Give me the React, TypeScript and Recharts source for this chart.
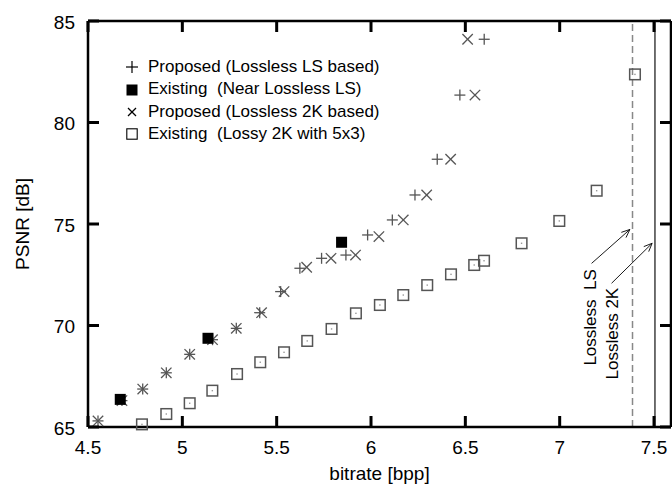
import React from 'react';
import { ScatterChart, Scatter, XAxis, YAxis, ReferenceLine, ReferenceDot, Legend } from 'recharts';

// ---- data ----
const xTicks = [4.5, 5, 5.5, 6, 6.5, 7, 7.5];
const yTicks = [65, 70, 75, 80, 85];
const xDomain = [4.5, 7.59];
const yDomain = [65, 85];

// + Proposed (Lossless LS based)
const lsPlusX = [4.553, 4.68, 4.79, 4.915, 5.039, 5.16, 5.286, 5.41, 5.521, 5.623, 5.738, 5.867, 5.982, 6.113, 6.233, 6.351, 6.471, 6.6];
const lsPlusY = [65.3, 66.3, 66.87, 67.67, 68.58, 69.3, 69.86, 70.63, 71.67, 72.82, 73.31, 73.47, 74.46, 75.2, 76.43, 78.19, 81.35, 84.1];
// x Proposed (Lossless 2K based)
const k2CrossX = [4.553, 4.68, 4.79, 4.915, 5.039, 5.16, 5.286, 5.42, 5.539, 5.659, 5.788, 5.918, 6.042, 6.171, 6.295, 6.422, 6.551, 6.512];
const k2CrossY = [65.3, 66.3, 66.87, 67.67, 68.58, 69.3, 69.86, 70.63, 71.67, 72.87, 73.31, 73.47, 74.38, 75.2, 76.43, 78.19, 81.35, 84.1];
// filled square Existing (Near Lossless LS)
const nearLsX = [4.671, 5.136, 5.844];
const nearLsY = [66.36, 69.37, 74.1];
// open square Existing (Lossy 2K with 5x3)
const lossyX = [4.786, 4.915, 5.039, 5.159, 5.29, 5.413, 5.539, 5.662, 5.791, 5.92, 6.047, 6.171, 6.298, 6.424, 6.547, 6.599, 6.798, 6.998, 7.196, 7.399];
const lossyY = [65.13, 65.64, 66.17, 66.79, 67.61, 68.19, 68.68, 69.24, 69.83, 70.6, 71.01, 71.5, 71.99, 72.52, 72.98, 73.19, 74.05, 75.15, 76.64, 82.37];

// vertical reference lines
const losslessLsX = 7.386;
const lossless2kX = 7.505;
// annotations
const annoLabels = [
  { text: 'Lossless  LS', x: 7.163, y: 70.4 },
  { text: 'Lossless 2K', x: 7.28, y: 69.6 },
];
const annoArrows = [
  [{ x: 7.169, y: 73.06 }, { x: 7.372, y: 74.73 }],
  [{ x: 7.275, y: 72.08 }, { x: 7.49, y: 74.05 }],
];

const legendRows = [
  { icon: 'plus', label: 'Proposed (Lossless LS based)' },
  { icon: 'filled', label: 'Existing  (Near Lossless LS)' },
  { icon: 'cross', label: 'Proposed (Lossless 2K based)' },
  { icon: 'open', label: 'Existing  (Lossy 2K with 5x3)' },
];

const toPts = (xs: number[], ys: number[]) => xs.map((x, i) => ({ x, y: ys[i] }));

// tick-mark anchor points on the top and right sides of the frame
const tickTop = xTicks.map((t) => ({ x: t, y: yDomain[1] }));
const tickRight = yTicks.map((t) => ({ x: xDomain[1], y: t }));

const FONT = '"Liberation Sans", Arial, Helvetica, sans-serif';
const GRAY = '#555';

const PlusShape = (p: any) => {
  const { cx, cy } = p;
  return (
    <g stroke={GRAY} strokeWidth={1.3}>
      <line x1={cx - 5.5} y1={cy} x2={cx + 5.5} y2={cy} />
      <line x1={cx} y1={cy - 5.5} x2={cx} y2={cy + 5.5} />
    </g>
  );
};
const CrossShape = (p: any) => {
  const { cx, cy } = p;
  return (
    <g stroke={GRAY} strokeWidth={1.3}>
      <line x1={cx - 5.2} y1={cy - 5.2} x2={cx + 5.2} y2={cy + 5.2} />
      <line x1={cx - 5.2} y1={cy + 5.2} x2={cx + 5.2} y2={cy - 5.2} />
    </g>
  );
};
const OpenSquare = (p: any) => {
  const { cx, cy } = p;
  return (
    <g>
      <rect x={cx - 5.3} y={cy - 5.3} width={10.6} height={10.6} fill="none" stroke={GRAY} strokeWidth={1.5} />
      <rect x={cx - 0.7} y={cy - 0.7} width={1.4} height={1.4} fill="#999" />
    </g>
  );
};
const FilledSquare = (p: any) => {
  const { cx, cy } = p;
  return <rect x={cx - 5.5} y={cy - 5.5} width={11} height={11} fill="#000" />;
};

// inward tick marks on top / right sides
const TickDown = (p: any) => <line x1={p.cx} y1={p.cy} x2={p.cx} y2={p.cy + 11} stroke="#000" strokeWidth={3} />;
const TickLeftward = (p: any) => <line x1={p.cx} y1={p.cy} x2={p.cx - 11} y2={p.cy} stroke="#000" strokeWidth={3} />;

const LegendIcon = ({ type }: { type: string }) => (
  <svg width={12} height={12} style={{ display: 'block' }}>
    {type === 'plus' && (
      <g stroke="#000" strokeWidth={1.2}>
        <line x1={0} y1={6} x2={12} y2={6} />
        <line x1={6} y1={0} x2={6} y2={12} />
      </g>
    )}
    {type === 'filled' && <rect x={0.5} y={0.5} width={11} height={11} fill="#000" />}
    {type === 'cross' && (
      <g stroke="#000" strokeWidth={1.2}>
        <line x1={2} y1={2} x2={10} y2={10} />
        <line x1={2} y1={10} x2={10} y2={2} />
      </g>
    )}
    {type === 'open' && <rect x={0.8} y={0.8} width={10.4} height={10.4} fill="none" stroke="#000" strokeWidth={1.1} />}
  </svg>
);

const LegendContent = () => (
  <div style={{ fontFamily: FONT, fontSize: 17, color: '#000', lineHeight: '22.4px' }}>
    {legendRows.map((r) => (
      <div key={r.label} style={{ display: 'flex', alignItems: 'center', height: 22.4 }}>
        <LegendIcon type={r.icon} />
        <span style={{ marginLeft: 10, whiteSpace: 'pre' }}>{r.label}</span>
      </div>
    ))}
  </div>
);

const ArrowShape = (p: any) => {
  const { x1, y1, x2, y2 } = p;
  const ang = Math.atan2(y2 - y1, x2 - x1);
  const a1 = ang + Math.PI - 0.4;
  const a2 = ang + Math.PI + 0.4;
  return (
    <g stroke="#000" strokeWidth={0.9} fill="none">
      <line x1={x1} y1={y1} x2={x2} y2={y2} />
      <line x1={x2} y1={y2} x2={x2 + 9 * Math.cos(a1)} y2={y2 + 9 * Math.sin(a1)} />
      <line x1={x2} y1={y2} x2={x2 + 9 * Math.cos(a2)} y2={y2 + 9 * Math.sin(a2)} />
    </g>
  );
};

const makeVText = (text: string) => (p: any) => {
  const { cx, cy } = p;
  return (
    <text
      x={cx}
      y={cy}
      transform={`rotate(-90 ${cx} ${cy})`}
      textAnchor="middle"
      dominantBaseline="central"
      fontFamily={FONT}
      fontSize={17}
      fill="#000"
      style={{ whiteSpace: 'pre' }}
    >
      {text}
    </text>
  );
};

const YLabel = (p: any) => {
  const vb = p.viewBox || { x: 0, y: 21, width: 88, height: 406 };
  const cx = vb.x + 22;
  const cy = vb.y + vb.height / 2;
  return (
    <text x={cx} y={cy} transform={`rotate(-90 ${cx} ${cy})`} textAnchor="middle" dominantBaseline="central" fontFamily={FONT} fontSize={19} fill="#000">
      PSNR [dB]
    </text>
  );
};

// axis ticks: inward tick mark + label (same pattern as the working test)
const BottomTick = (p: any) => {
  const { x, y, payload } = p;
  return (
    <g>
      <line x1={x} y1={y} x2={x} y2={y - 11} stroke="#000" strokeWidth={3} />
      <text x={x} y={y + 27} textAnchor="middle" fontFamily={FONT} fontSize={19} fill="#000">
        {payload.value}
      </text>
    </g>
  );
};
const LeftTick = (p: any) => {
  const { x, y, payload } = p;
  return (
    <g>
      <line x1={x} y1={y} x2={x + 11} y2={y} stroke="#000" strokeWidth={3} />
      <text x={x - 13} y={y + 7.5} textAnchor="end" fontFamily={FONT} fontSize={19} fill="#000">
        {payload.value}
      </text>
    </g>
  );
};

const frame = { stroke: '#000', strokeWidth: 2.5 };

export default function App() {
  return (
    <div style={{ position: 'absolute', left: 0, top: 0 }}>
      <ScatterChart width={672} height={486} margin={{ top: 21, right: 1, bottom: 0, left: 0 }}>
        <XAxis
          dataKey="x"
          type="number"
          domain={xDomain}
          ticks={xTicks}
          height={59}
          tickSize={0}
          tickMargin={0}
          tickLine={false}
          axisLine={frame}
          tick={BottomTick}
          interval={0}
          label={{ value: 'bitrate [bpp]', position: 'insideBottom', offset: 6, fill: '#000', fontSize: 19, fontFamily: FONT }}
        />
        <YAxis
          dataKey="y"
          type="number"
          domain={yDomain}
          ticks={yTicks}
          width={88}
          tickSize={0}
          tickMargin={0}
          tickLine={false}
          axisLine={frame}
          tick={LeftTick}
          interval={0}
          label={<YLabel />}
        />
        <ReferenceLine y={yDomain[1]} stroke="#000" strokeWidth={2.5} />
        <ReferenceLine x={xDomain[1]} stroke="#000" strokeWidth={2.5} />
        <ReferenceLine x={losslessLsX} stroke="#888" strokeWidth={1.5} strokeDasharray="7 4" />
        <ReferenceLine x={lossless2kX} stroke="#111" strokeWidth={1.2} />
        {annoArrows.map((seg, i) => (
          <ReferenceLine key={'a' + i} segment={seg} shape={ArrowShape} />
        ))}
        {annoLabels.map((a) => (
          <ReferenceDot key={a.text} x={a.x} y={a.y} r={1} shape={makeVText(a.text)} />
        ))}
        <Scatter data={tickTop} shape={TickDown} legendType="none" isAnimationActive={false} />
        <Scatter data={tickRight} shape={TickLeftward} legendType="none" isAnimationActive={false} />
        <Scatter name="Proposed (Lossless LS based)" data={toPts(lsPlusX, lsPlusY)} shape={PlusShape} isAnimationActive={false} />
        <Scatter name="Proposed (Lossless 2K based)" data={toPts(k2CrossX, k2CrossY)} shape={CrossShape} isAnimationActive={false} />
        <Scatter name="Existing (Lossy 2K with 5x3)" data={toPts(lossyX, lossyY)} shape={OpenSquare} isAnimationActive={false} />
        <Scatter name="Existing (Near Lossless LS)" data={toPts(nearLsX, nearLsY)} shape={FilledSquare} isAnimationActive={false} />
        <Legend
          layout="vertical"
          align="center"
          verticalAlign="middle"
          content={<LegendContent />}
          wrapperStyle={{ left: 126, top: 56, width: 320 }}
        />
      </ScatterChart>
    </div>
  );
}
